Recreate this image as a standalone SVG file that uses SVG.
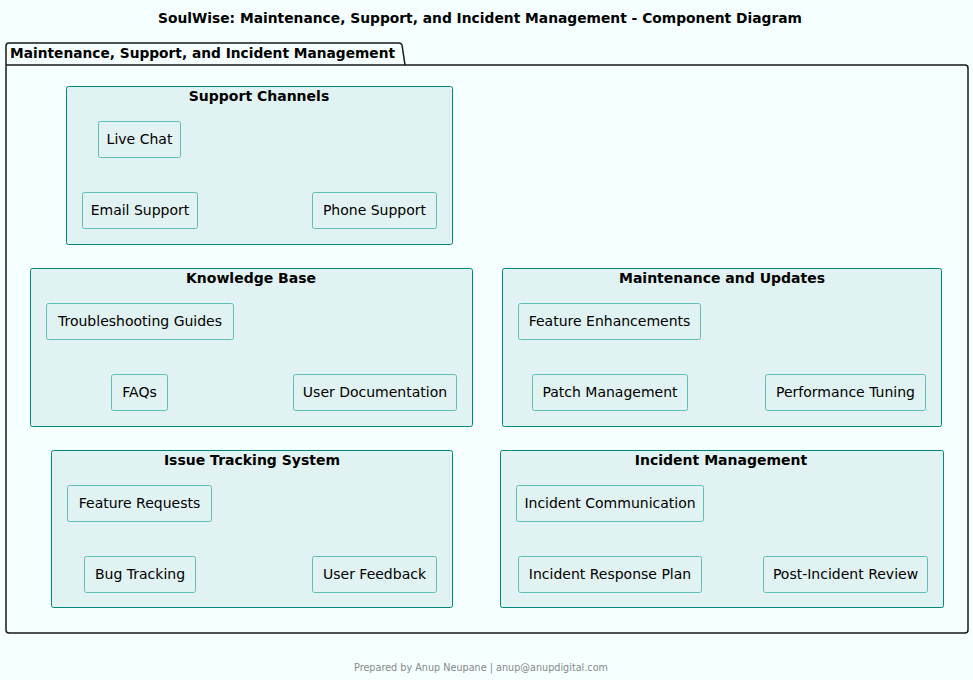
<svg xmlns="http://www.w3.org/2000/svg" width="973" height="680" viewBox="0 0 973 680">
<style>
text{font-family:"DejaVu Sans",Verdana,sans-serif;fill:#000}
.title{font-size:14px;font-weight:bold}
.pkg{fill:#F5FFFF;stroke:#181818;stroke-width:1.5}
.ctr{fill:#E0F2F1;stroke:#00897B;stroke-width:1}
.ctrt{font-size:14px;font-weight:bold;text-anchor:middle}
.cmp{fill:#E0F2F1;stroke:#5FBFB4;stroke-width:1}
.cmpt{font-size:14px;text-anchor:middle}
.foot{font-size:10px;fill:#888888;text-anchor:middle}
</style>
<rect width="973" height="680" fill="#F5FFFF"/>
<text class="title" x="480" y="23" text-anchor="middle" textLength="644" lengthAdjust="spacingAndGlyphs">SoulWise: Maintenance, Support, and Incident Management - Component Diagram</text>
<g id="package">
<path class="pkg" d="M9,43 L399,43 Q401,43 402,45 L405,65 L965,65 Q968,65 968,68 L968,630 Q968,633 965,633 L9,633 Q6,633 6,630 L6,46 Q6,43 9,43 Z"/>
<line x1="6" y1="65" x2="405" y2="65" stroke="#181818" stroke-width="1.5"/>
<text x="10" y="58" style="font-size:14px;font-weight:bold" textLength="385" lengthAdjust="spacingAndGlyphs">Maintenance, Support, and Incident Management</text>
</g>
<g id="support-channels">
<rect class="ctr" x="66.5" y="86.5" width="386" height="158" rx="2"/>
<text class="ctrt" x="259" y="101">Support Channels</text>
</g>
<g id="knowledge-base">
<rect class="ctr" x="30.5" y="268.5" width="442" height="158" rx="2"/>
<text class="ctrt" x="251" y="283">Knowledge Base</text>
</g>
<g id="maintenance-updates">
<rect class="ctr" x="502.5" y="268.5" width="439" height="158" rx="2"/>
<text class="ctrt" x="722" y="283">Maintenance and Updates</text>
</g>
<g id="issue-tracking">
<rect class="ctr" x="51.5" y="450.5" width="401" height="157" rx="2"/>
<text class="ctrt" x="252" y="465">Issue Tracking System</text>
</g>
<g id="incident-management">
<rect class="ctr" x="500.5" y="450.5" width="443" height="157" rx="2"/>
<text class="ctrt" x="721" y="465">Incident Management</text>
</g>
<g id="live-chat"><rect class="cmp" x="98.5" y="121.5" width="82" height="36" rx="2"/><text class="cmpt" x="139.5" y="144">Live Chat</text></g>
<g id="email-support"><rect class="cmp" x="82.5" y="192.5" width="115" height="36" rx="2"/><text class="cmpt" x="140" y="215">Email Support</text></g>
<g id="phone-support"><rect class="cmp" x="312.5" y="192.5" width="124" height="36" rx="2"/><text class="cmpt" x="374.5" y="215">Phone Support</text></g>
<g id="troubleshooting-guides"><rect class="cmp" x="46.5" y="303.5" width="187" height="36" rx="2"/><text class="cmpt" x="140" y="326">Troubleshooting Guides</text></g>
<g id="faqs"><rect class="cmp" x="111.5" y="374.5" width="56" height="36" rx="2"/><text class="cmpt" x="139.5" y="397">FAQs</text></g>
<g id="user-documentation"><rect class="cmp" x="293.5" y="374.5" width="163" height="36" rx="2"/><text class="cmpt" x="375" y="397">User Documentation</text></g>
<g id="feature-enhancements"><rect class="cmp" x="518.5" y="303.5" width="182" height="36" rx="2"/><text class="cmpt" x="609.5" y="326">Feature Enhancements</text></g>
<g id="patch-management"><rect class="cmp" x="532.5" y="374.5" width="155" height="36" rx="2"/><text class="cmpt" x="610" y="397">Patch Management</text></g>
<g id="performance-tuning"><rect class="cmp" x="765.5" y="374.5" width="160" height="36" rx="2"/><text class="cmpt" x="845.5" y="397">Performance Tuning</text></g>
<g id="feature-requests"><rect class="cmp" x="67.5" y="485.5" width="144" height="36" rx="2"/><text class="cmpt" x="139.5" y="508">Feature Requests</text></g>
<g id="bug-tracking"><rect class="cmp" x="84.5" y="556.5" width="111" height="36" rx="2"/><text class="cmpt" x="140" y="579">Bug Tracking</text></g>
<g id="user-feedback"><rect class="cmp" x="312.5" y="556.5" width="124" height="36" rx="2"/><text class="cmpt" x="374.5" y="579">User Feedback</text></g>
<g id="incident-communication"><rect class="cmp" x="516.5" y="485.5" width="187" height="36" rx="2"/><text class="cmpt" x="610" y="508">Incident Communication</text></g>
<g id="incident-response-plan"><rect class="cmp" x="518.5" y="556.5" width="183" height="36" rx="2"/><text class="cmpt" x="610" y="579">Incident Response Plan</text></g>
<g id="post-incident-review"><rect class="cmp" x="763.5" y="556.5" width="164" height="36" rx="2"/><text class="cmpt" x="845.5" y="579">Post-Incident Review</text></g>
<g id="connectors"></g>
<text class="foot" x="481" y="671" textLength="254" lengthAdjust="spacingAndGlyphs">Prepared by Anup Neupane | anup@anupdigital.com</text>
</svg>
